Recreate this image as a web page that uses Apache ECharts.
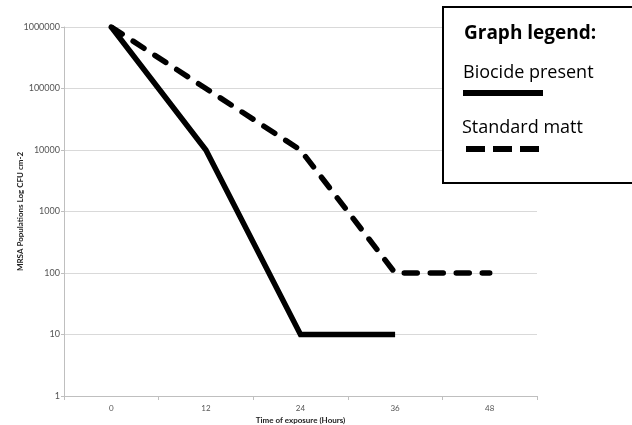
<!DOCTYPE html>
<html><head><meta charset="utf-8">
<script src="https://cdn.jsdelivr.net/npm/echarts@6/dist/echarts.min.js"></script>
<style>html,body{margin:0;padding:0;background:#fff}#c{width:632px;height:425px}</style>
</head><body><div id="c"></div>
<script>
const categories = ['0', '12', '24', '36', '48'];
const biocide = [1000000, 10000, 10, 10, null];
const standard = [1000000, 100000, 10000, 100, 100];
const yTicks = [1, 10, 100, 1000, 10000, 100000, 1000000];
const FONT = 'Lato, "Open Sans", sans-serif';
const LFONT = '"Open Sans", Lato, sans-serif';
const chart = echarts.init(document.getElementById('c'));
chart.setOption({
  animation: false,
  grid: {left: 64, right: 95, top: 27, bottom: 29, containLabel: false, outerBoundsMode: 'none'},
  xAxis: {
    type: 'category', data: categories, boundaryGap: true,
    name: 'Time of exposure (Hours)', nameLocation: 'middle', nameGap: 20, nameMoveOverlap: false,
    nameTextStyle: {fontFamily: FONT, fontSize: 8, fontWeight: 'bold', color: '#222'},
    axisLine: {lineStyle: {color: '#bfbfbf'}},
    axisTick: {show: true, length: 4, lineStyle: {color: '#bfbfbf'}},
    axisLabel: {fontFamily: FONT, fontSize: 8, color: '#555', margin: 8}
  },
  yAxis: {
    type: 'log', logBase: 10, min: 1, max: 1000000,
    name: 'MRSA Populations Log CFU cm-2', nameLocation: 'middle', nameGap: 40, nameMoveOverlap: false,
    nameTextStyle: {fontFamily: FONT, fontSize: 8, fontWeight: 'bold', color: '#222'},
    axisLine: {show: true, lineStyle: {color: '#bfbfbf'}},
    axisTick: {show: true, length: 3, lineStyle: {color: '#bfbfbf'}},
    splitLine: {lineStyle: {color: '#d9d9d9'}},
    axisLabel: {fontFamily: FONT, fontSize: 9, color: '#555', margin: 4,
      formatter: v => String(Math.round(v))}
  },
  series: [
    {name: 'Biocide present', type: 'line', data: biocide, showSymbol: false, symbol: 'none',
     lineStyle: {color: '#000', width: 5.5, cap: 'butt', join: 'miter'}},
    {name: 'Standard matt', type: 'line', data: standard, showSymbol: false, symbol: 'none',
     lineStyle: {color: '#000', width: 5.5, type: [13, 13], cap: 'round', join: 'round'}}
  ],
  graphic: [
    {type: 'rect', shape: {x: 443, y: 7, width: 190, height: 176},
     style: {fill: '#fff', stroke: '#000', lineWidth: 2}, z: 100},
    {type: 'text', x: 464, y: 34, z: 101,
     style: {text: 'Graph legend:', font: 'bold 19px ' + LFONT, fill: '#000', verticalAlign: 'middle'}},
    {type: 'text', x: 463, y: 73, z: 101,
     style: {text: 'Biocide present', font: '18px ' + LFONT, fill: '#000', verticalAlign: 'middle'}},
    {type: 'line', z: 101, shape: {x1: 463, y1: 93, x2: 543, y2: 93},
     style: {stroke: '#000', lineWidth: 6}},
    {type: 'text', x: 462, y: 128, z: 101,
     style: {text: 'Standard matt', font: '18px ' + LFONT, fill: '#000', verticalAlign: 'middle'}},
    {type: 'line', z: 101, shape: {x1: 466, y1: 149, x2: 539, y2: 149},
     style: {stroke: '#000', lineWidth: 6, lineDash: [19, 8]}}
  ]
});
</script></body></html>
